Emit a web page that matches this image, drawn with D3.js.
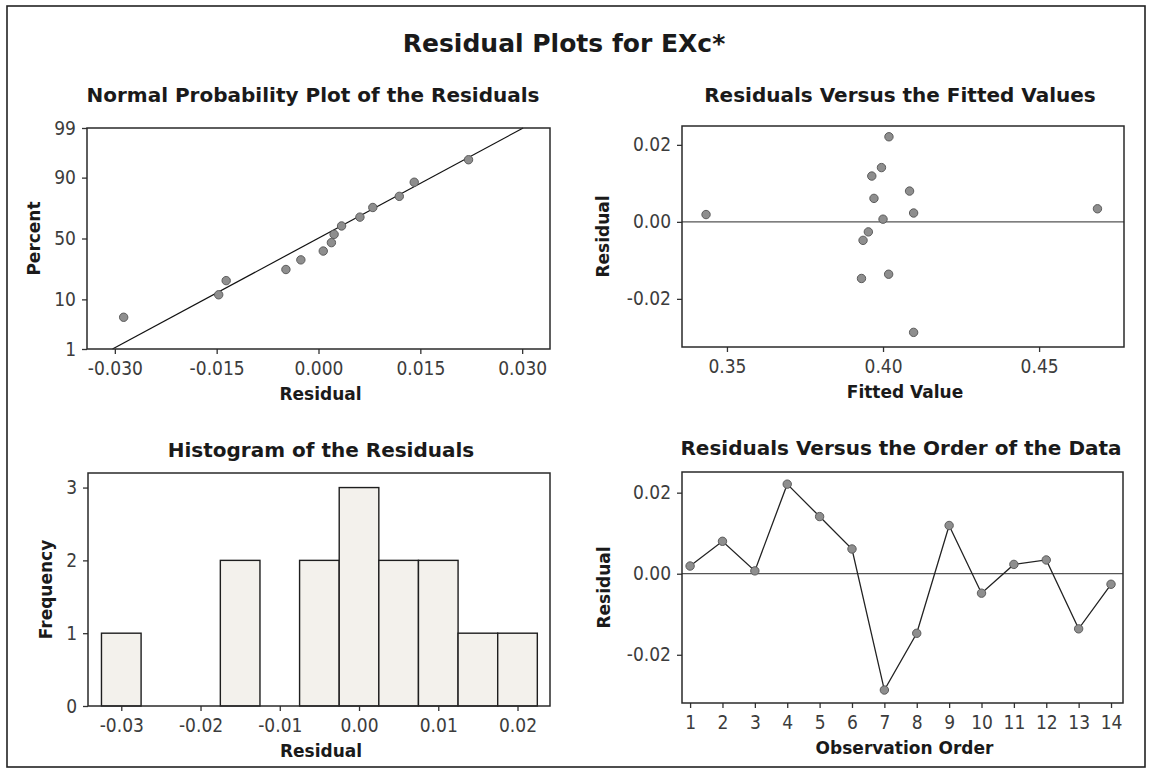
<!DOCTYPE html>
<html>
<head>
<meta charset="utf-8">
<script src="https://cdn.jsdelivr.net/npm/d3@7"></script>
<style>
  body { margin: 0; background: #fff; }
  svg text { font-family: 'DejaVu Sans', sans-serif; fill: #1a1a1a; }
  .tick text { font-family: 'DejaVu Sans Condensed', 'DejaVu Sans', sans-serif; font-size: 19px; fill: #3c3c3c; }
  .tick line { stroke: #333; stroke-width: 1.3px; }
</style>
</head>
<body>
<script>
// values
const observationOrder = [1, 2, 3, 4, 5, 6, 7, 8, 9, 10, 11, 12, 13, 14];
const residuals = [0.0019, 0.0080, 0.0007, 0.0221, 0.0141, 0.0061, -0.0287, -0.0147, 0.0119, -0.0048, 0.0023, 0.0034, -0.0136, -0.0026];
const fittedValues = [0.3433, 0.4085, 0.4000, 0.4019, 0.3995, 0.3971, 0.4098, 0.3931, 0.3964, 0.3936, 0.4098, 0.4687, 0.4018, 0.3953];

const histBinCenters = [-0.030, -0.025, -0.020, -0.015, -0.010, -0.005, 0.000, 0.005, 0.010, 0.015, 0.020];
const histCounts = [1, 0, 0, 2, 0, 2, 3, 2, 2, 1, 1];
const histBinWidth = 0.005;

// fitted normal line of the probability plot
const normalFitMean = -0.0001;
const normalFitSd = 0.0130;

const percentTicks = [1, 10, 50, 90, 99];
const probResidualTicks = [-0.030, -0.015, 0.000, 0.015, 0.030];
const residualTicks = [-0.02, 0.00, 0.02];
const fittedTicks = [0.35, 0.40, 0.45];
const histResidualTicks = [-0.03, -0.02, -0.01, 0.00, 0.01, 0.02];
const frequencyTicks = [0, 1, 2, 3];

const W = 1149, H = 771;

// Acklam's approximation of the inverse normal cdf
function probit(p) {
  const a = [-39.69683028665376, 220.9460984245205, -275.9285104469687, 138.3577518672690, -30.66479806614716, 2.506628277459239];
  const b = [-54.47609879822406, 161.5858368580409, -155.6989798598866, 66.80131188771972, -13.28068155288572];
  const c = [-0.007784894002430293, -0.3223964580411365, -2.400758277161838, -2.549732539343734, 4.374664141464968, 2.938163982698783];
  const d = [0.007784695709041462, 0.3224671290700398, 2.445134137142996, 3.754408661907416];
  const pl = 0.02425;
  let q, r;
  if (p < pl) {
    q = Math.sqrt(-2 * Math.log(p));
    return (((((c[0]*q+c[1])*q+c[2])*q+c[3])*q+c[4])*q+c[5]) / ((((d[0]*q+d[1])*q+d[2])*q+d[3])*q+1);
  } else if (p <= 1 - pl) {
    q = p - 0.5; r = q * q;
    return (((((a[0]*r+a[1])*r+a[2])*r+a[3])*r+a[4])*r+a[5])*q / (((((b[0]*r+b[1])*r+b[2])*r+b[3])*r+b[4])*r+1);
  }
  q = Math.sqrt(-2 * Math.log(1 - p));
  return -(((((c[0]*q+c[1])*q+c[2])*q+c[3])*q+c[4])*q+c[5]) / ((((d[0]*q+d[1])*q+d[2])*q+d[3])*q+1);
}

const svg = d3.select('body').append('svg')
  .attr('width', W)
  .attr('height', H);

svg.append('rect')
  .attr('x', 7).attr('y', 6)
  .attr('width', 1138).attr('height', 761)
  .attr('fill', 'none')
  .attr('stroke', '#222')
  .attr('stroke-width', 1.6);

svg.append('text')
  .attr('x', 564).attr('y', 52)
  .attr('text-anchor', 'middle')
  .style('font-size', '25px')
  .style('font-weight', 'bold')
  .text('Residual Plots for EXc*');

// box, title and axis labels shared by the four panels
function panel(box, title, xLabel, yLabel) {
  const g = svg.append('g');
  g.append('text')
    .attr('x', title.x).attr('y', title.y)
    .attr('text-anchor', 'middle')
    .style('font-size', '20px')
    .style('font-weight', 'bold')
    .text(title.text);
  g.append('text')
    .attr('x', (box.x0 + box.x1) / 2 + 2).attr('y', box.y1 + 51)
    .attr('text-anchor', 'middle')
    .style('font-size', '17px')
    .style('font-weight', 'bold')
    .text(xLabel);
  g.append('text')
    .attr('transform', 'translate(' + yLabel.x + ',' + (box.y0 + box.y1) / 2 + ') rotate(-90)')
    .attr('text-anchor', 'middle')
    .style('font-size', '17px')
    .style('font-weight', 'bold')
    .text(yLabel.text);
  return g;
}

function drawBox(g, box) {
  g.append('rect')
    .attr('x', box.x0).attr('y', box.y0)
    .attr('width', box.x1 - box.x0).attr('height', box.y1 - box.y0)
    .attr('fill', 'none')
    .attr('stroke', '#2a2a2a')
    .attr('stroke-width', 1.5);
}

function axes(g, box, x, y, xTicks, xFmt, yTicks, yFmt) {
  g.append('g')
    .attr('transform', 'translate(0,' + box.y1 + ')')
    .call(d3.axisBottom(x).tickValues(xTicks).tickFormat(xFmt).tickSize(5).tickPadding(8))
    .call(a => a.select('.domain').remove());
  g.append('g')
    .attr('transform', 'translate(' + box.x0 + ',0)')
    .call(d3.axisLeft(y).tickValues(yTicks).tickFormat(yFmt).tickSize(5).tickPadding(6))
    .call(a => a.select('.domain').remove());
}

function dots(g, data, cx, cy) {
  g.append('g').selectAll('circle')
    .data(data)
    .enter().append('circle')
    .attr('cx', cx)
    .attr('cy', cy)
    .attr('r', 4.2)
    .attr('fill', '#8e8e8e')
    .attr('stroke', '#5c5c5c')
    .attr('stroke-width', 1);
}

/* normal probability plot */
{
  const box = {x0: 87, x1: 550, y0: 128, y1: 349};
  const g = panel(box, {x: 313, y: 102, text: 'Normal Probability Plot of the Residuals'},
    'Residual', {x: 40, text: 'Percent'});
  const x = d3.scaleLinear().domain([-0.0341, 0.0341]).range([box.x0, box.x1]);
  const yz = d3.scaleLinear().domain([probit(0.01), probit(0.99)]).range([box.y1, box.y0]);
  const y = p => yz(probit(p / 100));

  const zLo = probit(0.01), zHi = probit(0.99);
  g.append('line')
    .attr('x1', x(normalFitMean + zLo * normalFitSd)).attr('y1', yz(zLo))
    .attr('x2', x(normalFitMean + zHi * normalFitSd)).attr('y2', yz(zHi))
    .attr('stroke', '#111')
    .attr('stroke-width', 1.2);

  const n = residuals.length;
  const sorted = residuals.slice().sort(d3.ascending)
    .map((r, i) => ({r: r, p: 100 * (i + 1 - 0.3) / (n + 0.4)}));
  dots(g, sorted, d => x(d.r), d => y(d.p));

  g.append('g')
    .attr('transform', 'translate(0,' + box.y1 + ')')
    .call(d3.axisBottom(x).tickValues(probResidualTicks).tickFormat(d => d.toFixed(3)).tickSize(5).tickPadding(8))
    .call(a => a.select('.domain').remove());
  const yAxisScale = d3.scaleLinear().domain(yz.domain()).range(yz.range());
  g.append('g')
    .attr('transform', 'translate(' + box.x0 + ',0)')
    .call(d3.axisLeft(yAxisScale).tickValues(percentTicks.map(p => probit(p / 100))).tickFormat((d, i) => percentTicks[i]).tickSize(5).tickPadding(6))
    .call(a => a.select('.domain').remove());
  drawBox(g, box);
}

/* residuals versus fitted values */
{
  const box = {x0: 682, x1: 1124, y0: 126, y1: 347};
  const g = panel(box, {x: 900, y: 102, text: 'Residuals Versus the Fitted Values'},
    'Fitted Value', {x: 609, text: 'Residual'});
  const x = d3.scaleLinear().domain([0.3356, 0.4772]).range([box.x0, box.x1]);
  const y = d3.scaleLinear().domain([-0.0325, 0.0249]).range([box.y1, box.y0]);
  g.append('line')
    .attr('x1', box.x0).attr('x2', box.x1)
    .attr('y1', y(0)).attr('y2', y(0))
    .attr('stroke', '#555')
    .attr('stroke-width', 1.2);
  dots(g, fittedValues.map((f, i) => ({f: f, r: residuals[i]})), d => x(d.f), d => y(d.r));
  axes(g, box, x, y, fittedTicks, d => d.toFixed(2), residualTicks, d => d.toFixed(2));
  drawBox(g, box);
}

/* histogram */
{
  const box = {x0: 88, x1: 550, y0: 473, y1: 706};
  const g = panel(box, {x: 321, y: 457, text: 'Histogram of the Residuals'},
    'Residual', {x: 52, text: 'Frequency'});
  const x = d3.scaleLinear().domain([-0.0342, 0.0241]).range([box.x0, box.x1]);
  const y = d3.scaleLinear().domain([0, 3.2]).range([box.y1, box.y0]);
  g.append('g').selectAll('rect')
    .data(histBinCenters.map((c, i) => ({c: c, n: histCounts[i]})))
    .enter().append('rect')
    .attr('x', d => x(d.c - histBinWidth / 2))
    .attr('y', d => y(d.n))
    .attr('width', d => x(d.c + histBinWidth / 2) - x(d.c - histBinWidth / 2))
    .attr('height', d => y(0) - y(d.n))
    .attr('fill', '#f3f1ec')
    .attr('stroke', '#1e1e1e')
    .attr('stroke-width', 1.4);
  axes(g, box, x, y, histResidualTicks, d => d.toFixed(2), frequencyTicks, d3.format('d'));
  drawBox(g, box);
}

/* residuals versus order */
{
  const box = {x0: 682, x1: 1123, y0: 472, y1: 703};
  const g = panel(box, {x: 901, y: 455, text: 'Residuals Versus the Order of the Data'},
    'Observation Order', {x: 610, text: 'Residual'});
  const x = d3.scaleLinear().domain([0.75, 14.37]).range([box.x0, box.x1]);
  const y = d3.scaleLinear().domain([-0.0319, 0.0251]).range([box.y1, box.y0]);
  g.append('line')
    .attr('x1', box.x0).attr('x2', box.x1)
    .attr('y1', y(0)).attr('y2', y(0))
    .attr('stroke', '#555')
    .attr('stroke-width', 1.2);
  const pts = observationOrder.map((o, i) => ({o: o, r: residuals[i]}));
  g.append('path')
    .datum(pts)
    .attr('fill', 'none')
    .attr('stroke', '#222')
    .attr('stroke-width', 1.3)
    .attr('d', d3.line().x(d => x(d.o)).y(d => y(d.r)));
  dots(g, pts, d => x(d.o), d => y(d.r));
  axes(g, box, x, y, observationOrder, d3.format('d'), residualTicks, d => d.toFixed(2));
  drawBox(g, box);
}
</script>
</body>
</html>
